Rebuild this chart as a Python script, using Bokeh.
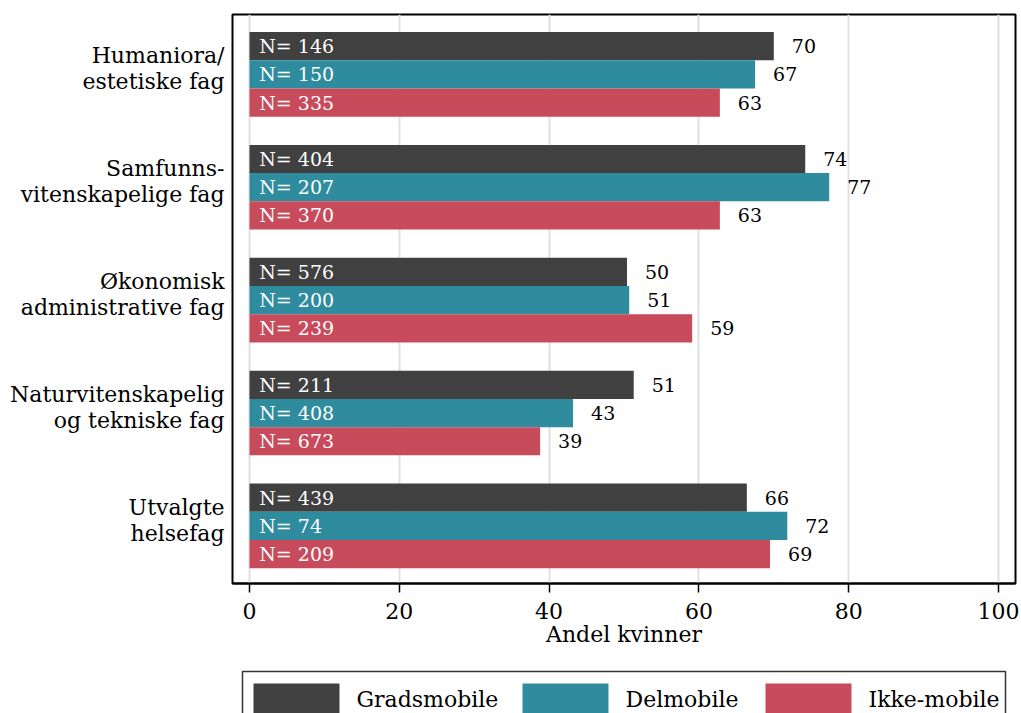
from bokeh.plotting import figure
from bokeh.layouts import column
from bokeh.models import Range1d, ColumnDataSource, FixedTicker
from bokeh.core.properties import value
from bokeh.embed import file_html
from bokeh.resources import INLINE

# ---- data ----
categories = [
    "Humaniora/\nestetiske fag",
    "Samfunns-\nvitenskapelige fag",
    "Økonomisk\nadministrative fag",
    "Naturvitenskapelig\nog tekniske fag",
    "Utvalgte\nhelsefag",
]
series = ["Gradsmobile", "Delmobile", "Ikke-mobile"]
gradsmobile = [70.0, 74.2, 50.4, 51.3, 66.4]
delmobile = [67.5, 77.4, 50.7, 43.2, 71.8]
ikke_mobile = [62.8, 62.8, 59.1, 38.8, 69.5]
gradsmobile_lbl = ["70", "74", "50", "51", "66"]
delmobile_lbl = ["67", "77", "51", "43", "72"]
ikke_mobile_lbl = ["63", "63", "59", "39", "69"]
n_gradsmobile = [146, 404, 576, 211, 439]
n_delmobile = [150, 207, 200, 408, 74]
n_ikke_mobile = [335, 370, 239, 673, 209]
x_ticks = [0, 20, 40, 60, 80, 100]
x_title = "Andel kvinner"

colors = ["#404040", "#2e8c9e", "#c84b5b"]
FONT = "DejaVu Serif"
W = 1021
LEFT, RIGHT = 232, 6

p = figure(width=W, height=650,
           x_range=Range1d(-2.27, 102.27), y_range=Range1d(4.51, -0.53),
           output_backend="svg", toolbar_location=None,
           min_border_left=LEFT, min_border_right=RIGHT, min_border_top=14, min_border_bottom=67)
p.background_fill_color = "white"
p.border_fill_color = "white"
p.outline_line_color = "black"
p.outline_line_width = 2
p.ygrid.grid_line_color = None
p.xgrid.grid_line_color = "#e0e0e0"
p.xgrid.grid_line_width = 2

ax = p.xaxis[0]
ax.ticker = FixedTicker(ticks=x_ticks)
ax.axis_label = x_title
ax.axis_label_text_font = FONT
ax.axis_label_text_font_size = "22px"
ax.axis_label_text_font_style = "normal"
ax.axis_label_text_color = "black"
ax.axis_label_standoff = 0
ax.major_label_text_font = FONT
ax.major_label_text_font_size = "22px"
ax.major_label_text_color = "black"
ax.major_label_standoff = 10
ax.major_tick_in = 0
ax.major_tick_out = 9
ax.major_tick_line_width = 1.5
ax.major_tick_line_color = "black"
ax.minor_tick_line_color = None
ax.axis_line_color = "black"
ax.axis_line_width = 2

# category labels sit slightly above the group centre
cat_ticks = [i - 0.05 for i in range(len(categories))]
ay = p.yaxis[0]
ay.ticker = FixedTicker(ticks=cat_ticks)
ay.major_label_overrides = {t: c for t, c in zip(cat_ticks, categories)}
ay.major_label_text_font = FONT
ay.major_label_text_font_size = "22px"
ay.major_label_text_line_height = 1.03
ay.major_label_text_color = "black"
ay.major_label_standoff = 8
ay.major_tick_in = 0
ay.major_tick_out = 0
ay.minor_tick_line_color = None
ay.axis_line_color = None

offsets = [-0.25, 0.0, 0.25]
vals = [gradsmobile, delmobile, ikke_mobile]
lbls = [gradsmobile_lbl, delmobile_lbl, ikke_mobile_lbl]
ns = [n_gradsmobile, n_delmobile, n_ikke_mobile]

for k in range(3):
    ys = [i + offsets[k] for i in range(len(categories))]
    src = ColumnDataSource(dict(
        y=ys, v=vals[k], lbl=lbls[k],
        nlbl=["N= %d" % n for n in ns[k]],
        x0=[1.3] * len(ys),
    ))
    p.hbar(y="y", right="v", left=0, height=0.25, source=src,
           fill_color=colors[k], line_color=None)
    p.text(x="x0", y="y", text="nlbl", source=src, text_color="white",
           text_font=value(FONT), text_font_size="19px",
           text_baseline="middle", text_align="left")
    p.text(x="v", y="y", text="lbl", source=src, text_color="black",
           text_font=value(FONT), text_font_size="19px",
           text_baseline="middle", text_align="left", x_offset=18)

# ---- legend strip (pixel-like coordinates, clipped at the bottom like the reference) ----
LH = 63
lf = figure(width=W, height=LH, x_range=Range1d(LEFT, W - RIGHT), y_range=Range1d(LH, 0),
            output_backend="svg", toolbar_location=None,
            x_axis_location=None, y_axis_location=None,
            min_border_left=LEFT, min_border_right=RIGHT, min_border_top=0, min_border_bottom=0)
lf.outline_line_color = None
lf.xgrid.grid_line_color = None
lf.ygrid.grid_line_color = None
lf.border_fill_color = "white"
lf.background_fill_color = "white"

box_left, box_right, box_top = 242, 1005, 21
item_x = [253, 522, 765]
sw_w, sw_top, standoff, text_base = 86, 33, 17, 49
lf.quad(left=[box_left], right=[box_right], top=[box_top], bottom=[LH + 20],
        fill_color="white", line_color="#333333", line_width=1.5)
lf.quad(left=item_x, right=[x + sw_w for x in item_x], top=[sw_top] * 3,
        bottom=[LH + 20] * 3, fill_color=colors, line_color=None)
lf.text(x=[x + sw_w + standoff for x in item_x], y=[text_base] * 3, text=series,
        text_font=value(FONT), text_font_size="22px", text_color="black",
        text_baseline="alphabetic", text_align="left")

open("out.html", "w").write(file_html(column(p, lf, spacing=0), INLINE))
